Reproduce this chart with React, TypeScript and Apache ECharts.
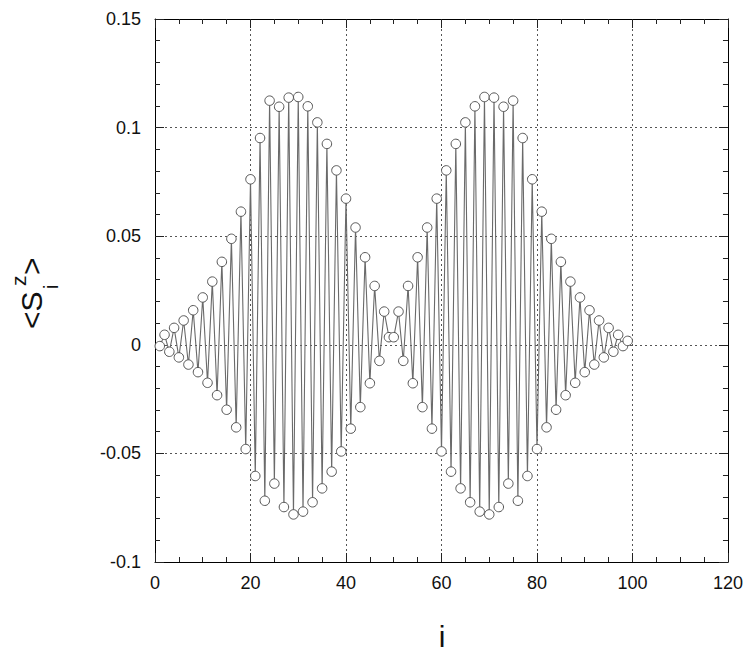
import React, { useEffect, useRef } from "react";
import * as echarts from "echarts";

// site index i = 1..99
const sites: number[] = [
  1, 2, 3, 4, 5, 6, 7, 8, 9, 10, 11, 12, 13, 14, 15, 16, 17, 18, 19, 20,
  21, 22, 23, 24, 25, 26, 27, 28, 29, 30, 31, 32, 33, 34, 35, 36, 37, 38, 39, 40,
  41, 42, 43, 44, 45, 46, 47, 48, 49, 50, 51, 52, 53, 54, 55, 56, 57, 58, 59, 60,
  61, 62, 63, 64, 65, 66, 67, 68, 69, 70, 71, 72, 73, 74, 75, 76, 77, 78, 79, 80,
  81, 82, 83, 84, 85, 86, 87, 88, 89, 90, 91, 92, 93, 94, 95, 96, 97, 98, 99,
];

// <S_i^z> values
const sz: number[] = [
  -0.0006, 0.0046, -0.0032, 0.0078, -0.0058, 0.0112, -0.0091, 0.0159, -0.0126, 0.0218,
  -0.0175, 0.0291, -0.0232, 0.0382, -0.0299, 0.0488, -0.038, 0.0613, -0.048, 0.0762,
  -0.0604, 0.0952, -0.0718, 0.1124, -0.0639, 0.1096, -0.0747, 0.1138, -0.0781, 0.1141,
  -0.0768, 0.1098, -0.0725, 0.1024, -0.0661, 0.0925, -0.0584, 0.0803, -0.0491, 0.0673,
  -0.0386, 0.054, -0.0287, 0.0403, -0.0177, 0.0271, -0.0074, 0.0153, 0.0035, 0.0035,
  0.0153, -0.0074, 0.0271, -0.0177, 0.0403, -0.0287, 0.054, -0.0386, 0.0673, -0.0491,
  0.0803, -0.0584, 0.0925, -0.0661, 0.1024, -0.0725, 0.1098, -0.0768, 0.1141, -0.0781,
  0.1138, -0.0747, 0.1096, -0.0639, 0.1124, -0.0718, 0.0952, -0.0604, 0.0762, -0.048,
  0.0613, -0.038, 0.0488, -0.0299, 0.0382, -0.0232, 0.0291, -0.0175, 0.0218, -0.0126,
  0.0159, -0.0091, 0.0112, -0.0058, 0.0078, -0.0032, 0.0046, -0.0006, 0.0018,
];

const xRange = { min: 0, max: 120, interval: 20 };
const yRange = { min: -0.1, max: 0.15, interval: 0.05 };

const FONT = "'Liberation Sans', Arial, Helvetica, sans-serif";

export default function App() {
  const ref = useRef<HTMLDivElement>(null);

  useEffect(() => {
    if (!ref.current) return;
    const chart = echarts.init(ref.current, undefined, { renderer: "svg" });

    const data = sites.map((s, k) => [s, sz[k]]);

    const axisLine = { show: true, onZero: false, lineStyle: { color: "#000", width: 1 } };
    const gridLine = { show: true, lineStyle: { color: "#555", width: 1, type: [2, 3] as any } };
    const tick = { show: true, inside: true, length: 9, lineStyle: { color: "#222", width: 1 } };

    const option: any = {
      animation: false,
      backgroundColor: "#fff",
      grid: { left: 155, right: 17, top: 19, bottom: 90, containLabel: false },
      xAxis: [
        {
          type: "value",
          position: "bottom",
          ...xRange,
          axisLine,
          axisTick: tick,
          minorTick: { show: true, splitNumber: 4, length: 5, lineStyle: { color: "#222", width: 1 } },
          splitLine: gridLine,
          axisLabel: { fontSize: 18, color: "#111", margin: 12, fontFamily: FONT },
        },
        {
          type: "value",
          position: "top",
          ...xRange,
          axisLine,
          axisTick: tick,
          minorTick: { show: true, splitNumber: 4, length: 5, lineStyle: { color: "#222", width: 1 } },
          splitLine: { show: false },
          axisLabel: { show: false },
        },
      ],
      yAxis: [
        {
          type: "value",
          position: "left",
          ...yRange,
          axisLine,
          axisTick: tick,
          minorTick: { show: true, splitNumber: 5, length: 5, lineStyle: { color: "#222", width: 1 } },
          splitLine: gridLine,
          axisLabel: {
            fontSize: 18,
            color: "#111",
            margin: 14,
            fontFamily: FONT,
            formatter: (v: number) => String(parseFloat(v.toFixed(3))),
          },
        },
        {
          type: "value",
          position: "right",
          ...yRange,
          axisLine,
          axisTick: tick,
          minorTick: { show: true, splitNumber: 5, length: 5, lineStyle: { color: "#222", width: 1 } },
          splitLine: { show: false },
          axisLabel: { show: false },
        },
      ],
      series: [
        {
          type: "line",
          xAxisIndex: 0,
          yAxisIndex: 0,
          data,
          showAllSymbol: true,
          symbol: "circle",
          symbolSize: 9.5,
          lineStyle: { color: "#6a6a6a", width: 1.1 },
          itemStyle: { color: "#fff", borderColor: "#555", borderWidth: 1 },
          z: 3,
        },
      ],
      graphic: [
        {
          type: "group",
          x: 42,
          y: 292,
          rotation: Math.PI / 2,
          children: [
            {
              type: "text",
              x: -37,
              y: -10.5,
              style: { text: "<S", fontSize: 30, fontFamily: FONT, fill: "#111", verticalAlign: "middle", align: "left" },
            },
            {
              type: "text",
              x: 3,
              y: 9,
              style: { text: "i", fontSize: 20, fontFamily: FONT, fill: "#111", verticalAlign: "middle", align: "left" },
            },
            {
              type: "text",
              x: 6,
              y: -24,
              style: { text: "z", fontSize: 21, fontFamily: FONT, fill: "#111", verticalAlign: "middle", align: "left" },
            },
            {
              type: "text",
              x: 17,
              y: -10.5,
              style: { text: ">", fontSize: 30, fontFamily: FONT, fill: "#111", verticalAlign: "middle", align: "left" },
            },
          ],
        },
        {
          type: "text",
          x: 442,
          y: 636,
          style: { text: "i", fontSize: 30, fontFamily: FONT, fill: "#111", verticalAlign: "middle", align: "center" },
        },
      ],
    };

    chart.setOption(option);
    return () => chart.dispose();
  }, []);

  return (
    <div
      ref={ref}
      style={{ position: "fixed", left: 0, top: 0, width: 746, height: 652, background: "#fff" }}
    />
  );
}
